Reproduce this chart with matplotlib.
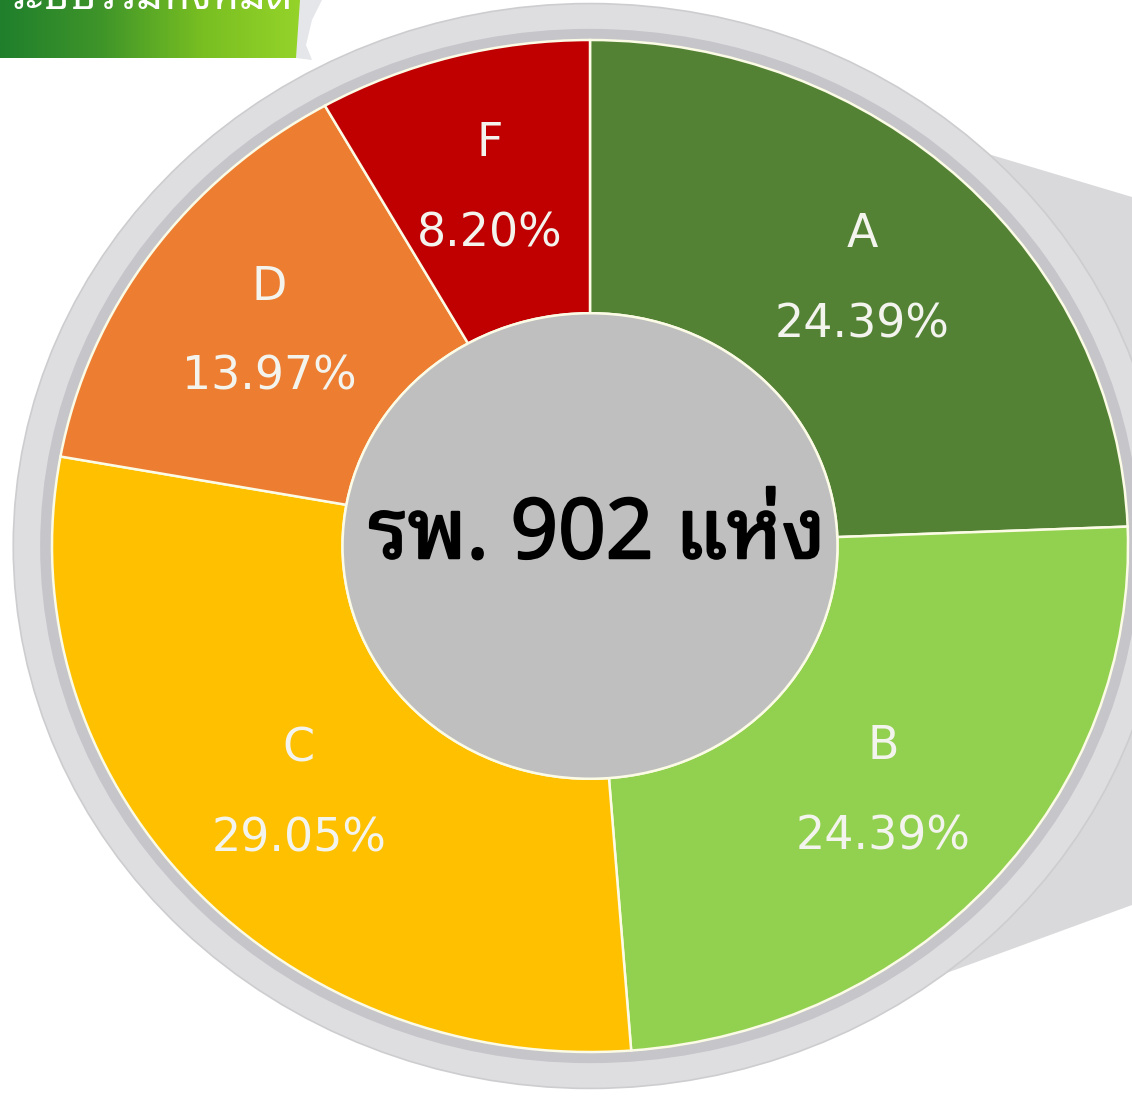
import numpy as np
import matplotlib
matplotlib.use("Agg")
import matplotlib.pyplot as plt
from matplotlib import font_manager
from matplotlib import patheffects
from matplotlib.ft2font import FT2Font
from matplotlib.patches import Circle, Polygon
from matplotlib.colors import LinearSegmentedColormap

# grade distribution of 902 hospitals
grades = ["A", "B", "C", "D", "F"]
shares = [24.39, 24.39, 29.05, 13.97, 8.20]
colors = ["#548235", "#92d050", "#ffc000", "#ed7d31", "#c00000"]
center_label = "รพ. 902 แห่ง"
banner_label = "ระบบรวมทั้งหมด"

W, H = 1132, 1098


def thai_family():
    """Pick an installed family that has Thai glyphs."""
    names = []
    for f in font_manager.fontManager.ttflist:
        try:
            if 0x0E23 in FT2Font(f.fname).get_charmap():
                names.append(f.name)
        except Exception:
            continue
    for pref in ("Tahoma", "Noto Sans Thai Looped", "Noto Sans Thai",
                 "Noto Sans Thai UI", "Loma", "Garuda"):
        if pref in names:
            return pref
    return names[0] if names else "DejaVu Sans"


THAI = thai_family()
plt.rcParams["font.family"] = [THAI, "DejaVu Sans"]

fig = plt.figure(figsize=(W / 100, H / 100), dpi=100)
fig.patch.set_facecolor("white")

# background layer in pixel coordinates: page shadow + banner
bg = fig.add_axes([0, 0, 1, 1])
bg.set_xlim(0, W)
bg.set_ylim(H, 0)
bg.axis("off")
bg.add_patch(Polygon([(640, 50), (1132, 197), (1132, 905), (900, 990), (700, 800)],
                     closed=True, fc="#d9d9db", ec="none", zorder=0))

grad = LinearSegmentedColormap.from_list(
    "banner", ["#1f7f2c", "#3f9529", "#79bf22", "#96d42a"])
bg.imshow(np.linspace(0, 1, 256)[None, :], cmap=grad, aspect="auto",
          extent=[0, 305, 58, 0], zorder=1)
bg.add_patch(Polygon([(300, 0), (322, 0), (312, 20), (306, 45), (312, 60),
                      (296, 58)], closed=True, fc="#e4e6ea", ec="none", zorder=2))
bg.text(6, 9, banner_label, color="white", fontsize=30, ha="left",
        va="baseline", zorder=3)

# pie layer: 1 data unit = 538 px across, 506 px down
cx, cy = 590, 546
rx, ry = 538, 506
ax = fig.add_axes([0, 0, 1, 1])
ax.patch.set_alpha(0)

ax.add_patch(Circle((0, 0), 1.072, fc="#dedee0", ec="#cdcdd0", lw=1.2, zorder=0))
ax.add_patch(Circle((0, 0), 1.022, fc="#c5c5ca", ec="none", zorder=0))

wedges, _ = ax.pie(shares, colors=colors, startangle=90, counterclock=False,
                   radius=1.0,
                   wedgeprops=dict(width=0.54, edgecolor="#fbfbe6", linewidth=1.8))
ax.add_patch(Circle((0, 0), 0.46, fc="#bfbfbf", ec="#fbfbe6", lw=1.8, zorder=3))

for w, g, s in zip(wedges, grades, shares):
    mid = np.deg2rad((w.theta1 + w.theta2) / 2)
    x, y = 0.73 * np.cos(mid), 0.73 * np.sin(mid)
    ax.text(x, y + 0.089, g, color="#f4f4ee", fontsize=33, ha="center",
            va="center", family="DejaVu Sans", zorder=4)
    ax.text(x, y - 0.089, f"{s:.2f}%", color="#f4f4ee", fontsize=33,
            ha="center", va="center", family="DejaVu Sans", zorder=4)

# fake a semibold weight with a thin stroke
ax.text(0.013, -0.024, center_label, color="black", fontsize=60,
        fontweight="bold", ha="center", va="baseline", zorder=5,
        path_effects=[patheffects.withStroke(linewidth=1.6, foreground="black")])

ax.set_aspect("auto")
ax.set_xlim(-cx / rx, (W - cx) / rx)
ax.set_ylim(-(H - cy) / ry, cy / ry)
ax.axis("off")

fig.savefig("out.png", dpi=100, facecolor="white")
plt.close(fig)
